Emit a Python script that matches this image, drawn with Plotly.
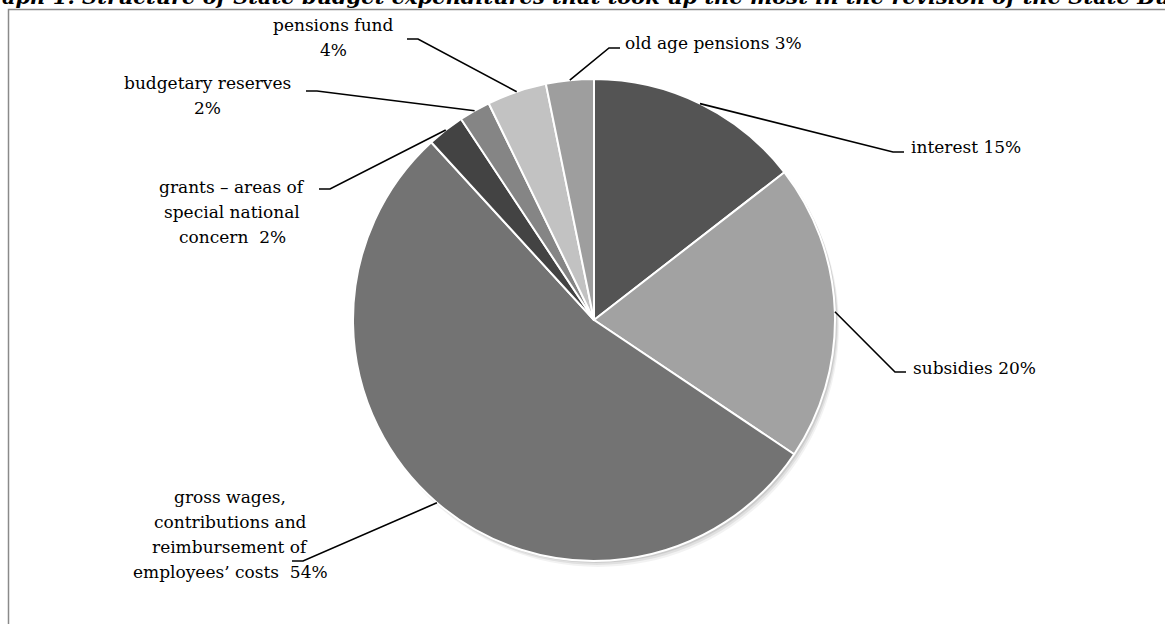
import math
import plotly.graph_objects as go

# ---------------- data ----------------
categories = [
    "interest",
    "subsidies",
    "gross wages, contributions and reimbursement of employees' costs",
    "grants – areas of special national concern",
    "budgetary reserves",
    "pensions fund",
    "old age pensions",
]
shares = [14.5, 19.9, 53.8, 2.5, 2.1, 4.0, 3.2]
label_lines = [
    ["interest 15%"],
    ["subsidies 20%"],
    ["gross wages,", "contributions and", "reimbursement of", "employees’ costs  54%"],
    ["grants – areas of", "special national", "concern  2%"],
    ["budgetary reserves", "2%"],
    ["pensions fund", "4%"],
    ["old age pensions 3%"],
]
title_text = ("Graph 1. Structure of State budget expenditures that took up the most "
              "in the revision of the State Budget")

# ---------------- styles / layout ----------------
colors = ["#545454", "#a2a2a2", "#737373", "#434343", "#858585", "#c2c2c2", "#9e9e9e"]
W, H = 1165, 624
CX, CY, R = 594, 320, 241
FONT = "DejaVu Serif"
FS = 17
LINE_STEP = 25
TICK = 11
# elbow of leader line, side of the short horizontal tick, text anchor
label_layout = [
    dict(elbow=(893, 152), side=1, tx=909, ty=147, anchor="left"),
    dict(elbow=(895, 372), side=1, tx=911, ty=368, anchor="left"),
    dict(elbow=(303, 561), side=-1, tx=230, ty=497, anchor="center"),
    dict(elbow=(330, 189), side=-1, tx=232, ty=187, anchor="center"),
    dict(elbow=(317, 91), side=-1, tx=207, ty=83, anchor="center"),
    dict(elbow=(418, 39), side=-1, tx=333, ty=25, anchor="center"),
    dict(elbow=(609, 48), side=1, tx=623, ty=43, anchor="left"),
]

fig = go.Figure()

def dom(cx, cy, r):
    return dict(x=[(cx - r) / W, (cx + r) / W], y=[1 - (cy + r) / H, 1 - (cy - r) / H])

# soft shadow under the pie
for dx, dy, a in [(4, 6, 0.05), (3, 4, 0.07), (2, 2, 0.09)]:
    fig.add_trace(go.Pie(values=[1], domain=dom(CX + dx, CY + dy, R), sort=False,
                         marker=dict(colors=[f"rgba(0,0,0,{a})"], line=dict(width=0)),
                         textinfo="none", hoverinfo="skip", showlegend=False))

fig.add_trace(go.Pie(
    labels=categories, values=shares, domain=dom(CX, CY, R),
    sort=False, direction="clockwise", rotation=0,
    marker=dict(colors=colors, line=dict(color="white", width=2)),
    textinfo="none", hoverinfo="label+percent", showlegend=False,
))

# invisible pixel axes for leader lines and labels
fig.add_trace(go.Scatter(x=[0, W], y=[0, H], mode="markers",
                         marker=dict(opacity=0), hoverinfo="skip", showlegend=False))

total = sum(shares)
cum = 0.0
shapes = []
annotations = []
for v, lines, lay in zip(shares, label_lines, label_layout):
    theta = 2 * math.pi * (cum + v / 2) / total
    cum += v
    px = CX + R * math.sin(theta)
    py = CY - R * math.cos(theta)
    ex, ey = lay["elbow"]
    tx_end = ex + lay["side"] * TICK
    path = f"M {px:.1f},{py:.1f} L {ex},{ey} L {tx_end},{ey}"
    shapes.append(dict(type="path", path=path, xref="x", yref="y",
                       line=dict(color="black", width=1.6), layer="above"))
    for i, ln in enumerate(lines):
        annotations.append(dict(
            x=lay["tx"], y=lay["ty"] + i * LINE_STEP, xref="x", yref="y",
            text=ln, showarrow=False, xanchor=lay["anchor"], yanchor="middle",
            font=dict(family=FONT, size=FS, color="black")))

# frame of the chart area
shapes.append(dict(type="rect", x0=8.5 / W, y0=1 - 9.5 / H, x1=1.05, y1=-0.05,
                   xref="paper", yref="paper",
                   line=dict(color="#8a8a8a", width=1.5), layer="below"))

annotations.append(dict(
    x=-29 / W, y=1 - 11 / H, xref="paper", yref="paper", text=f"<b><i>{title_text}</i></b>",
    showarrow=False, xanchor="left", yanchor="bottom",
    font=dict(family=FONT, size=21, color="black")))

fig.update_layout(
    width=W, height=H, autosize=False,
    margin=dict(l=0, r=0, t=0, b=0),
    paper_bgcolor="white", plot_bgcolor="rgba(0,0,0,0)",
    xaxis=dict(range=[0, W], visible=False, fixedrange=True),
    yaxis=dict(range=[H, 0], visible=False, fixedrange=True),
    shapes=shapes, annotations=annotations,
)

fig.write_html("out.html", config={"displayModeBar": False},
               post_script="document.body.style.margin='0';")
